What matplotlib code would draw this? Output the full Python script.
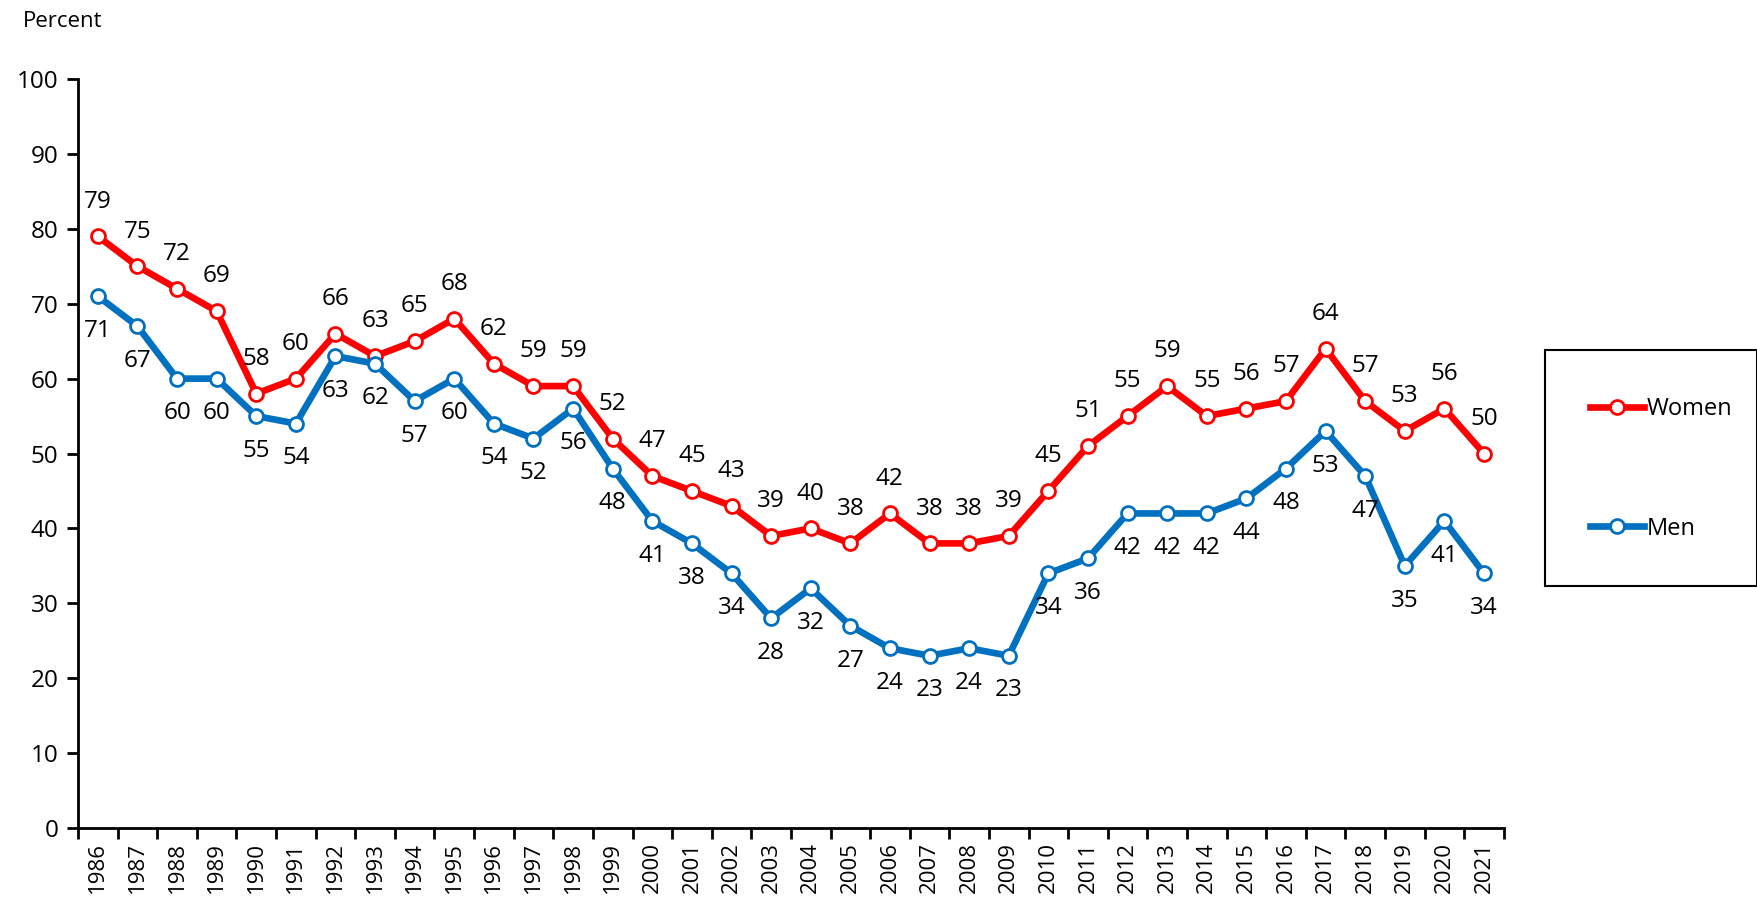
import matplotlib
matplotlib.use('Agg')
import matplotlib.pyplot as plt
from matplotlib.patches import Rectangle
from matplotlib.ticker import FixedLocator

plt.rcParams['font.family'] = ['Open Sans', 'DejaVu Sans']

years = list(range(1986, 2022))
women = [79, 75, 72, 69, 58, 60, 66, 63, 65, 68, 62, 59, 59, 52, 47, 45, 43, 39,
         40, 38, 42, 38, 38, 39, 45, 51, 55, 59, 55, 56, 57, 64, 57, 53, 56, 50]
men = [71, 67, 60, 60, 55, 54, 63, 62, 57, 60, 54, 52, 56, 48, 41, 38, 34, 28,
       32, 27, 24, 23, 24, 23, 34, 36, 42, 42, 42, 44, 48, 53, 47, 35, 41, 34]

red = '#ff0000'
blue = '#0070c0'

fig = plt.figure(figsize=(17.58, 8.97), dpi=100)
ax = fig.add_axes([0.0444, 0.0769, 0.811, 0.835])

x = list(range(len(years)))
mk = dict(marker='o', markersize=10, markerfacecolor='white', markeredgewidth=2)
ax.plot(x, women, color=red, lw=4.8, label='Women', markeredgecolor=red, **mk)
ax.plot(x, men, color=blue, lw=4.8, label='Men', markeredgecolor=blue, **mk)

for i in x:
    ax.annotate(str(women[i]), (i, women[i]), xytext=(0, 25), textcoords='offset points',
                ha='center', va='center', fontsize=17.5)
    ax.annotate(str(men[i]), (i, men[i]), xytext=(0, -25), textcoords='offset points',
                ha='center', va='center', fontsize=17.5)

ax.set_xlim(-0.5, len(years) - 0.5)
ax.set_ylim(0, 100)
ax.set_yticks(range(0, 101, 10))
ax.set_xticks(x)
ax.set_xticklabels([str(y) for y in years], rotation=90, fontsize=16)
ax.tick_params(axis='x', which='major', length=0, pad=10)
ax.xaxis.set_minor_locator(FixedLocator([i - 0.5 for i in range(len(years) + 1)]))
ax.tick_params(axis='x', which='minor', length=8, width=2, direction='out')
ax.tick_params(axis='y', length=8, width=2, labelsize=17.5, pad=6)
for s in ['top', 'right']:
    ax.spines[s].set_visible(False)
for s in ['left', 'bottom']:
    ax.spines[s].set_linewidth(2)

fig.text(0.013, 0.976, 'Percent', fontsize=16, ha='left', va='center')

# legend box
fig.patches.append(Rectangle((1545 / 1758, 1 - 586 / 897), 212 / 1758, 236 / 897,
                             transform=fig.transFigure, fill=False, edgecolor='black', lw=1.5))
fig.legend(loc='upper left', bbox_to_anchor=(1590 / 1758, 1 - 397 / 897), frameon=False,
           fontsize=17, labelspacing=4.05, handlelength=2.3, handletextpad=0.1,
           borderpad=0, borderaxespad=0)

fig.savefig('out.png', dpi=100)
